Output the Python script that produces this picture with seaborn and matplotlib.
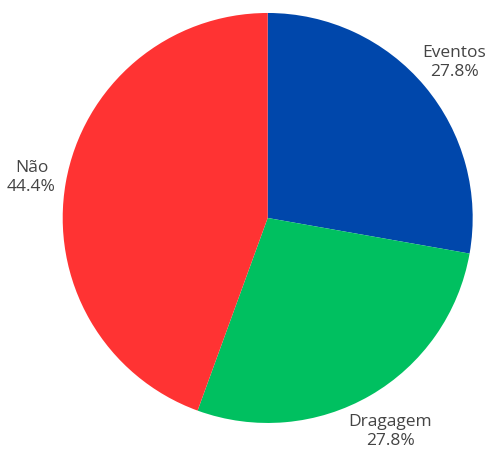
import matplotlib
matplotlib.use("Agg")
import matplotlib.pyplot as plt
import numpy as np
import seaborn as sns

sns.set_theme(style="white")
plt.rcParams["font.family"] = ["Open Sans", "DejaVu Sans"]

categories = ["Eventos", "Dragagem", "Não"]
counts = [5, 5, 8]
colors = ["#0047AB", "#00C060", "#FF3333"]

fig = plt.figure(figsize=(4.86, 4.52), dpi=100)
ax = fig.add_axes([0.1290, 0.0620, 0.8436, 0.9071])

wedges, _ = ax.pie(counts, colors=colors, startangle=90, counterclock=False,
                   radius=1.0, wedgeprops=dict(linewidth=0))
ax.set_xlim(-1, 1)
ax.set_ylim(-1, 1)
ax.set_aspect("equal")
ax.axis("off")

total = sum(counts)
label_dist = [1.19, 1.195, 1.17]
for w, name, c, r in zip(wedges, categories, counts, label_dist):
    mid = np.deg2rad((w.theta1 + w.theta2) / 2)
    ax.text(r * np.cos(mid), r * np.sin(mid), f"{name}\n{100 * c / total:.1f}%",
            ha="center", va="center", fontsize=12.5, color="#444444",
            linespacing=1.25, clip_on=False)

fig.savefig("out.png", dpi=100)
